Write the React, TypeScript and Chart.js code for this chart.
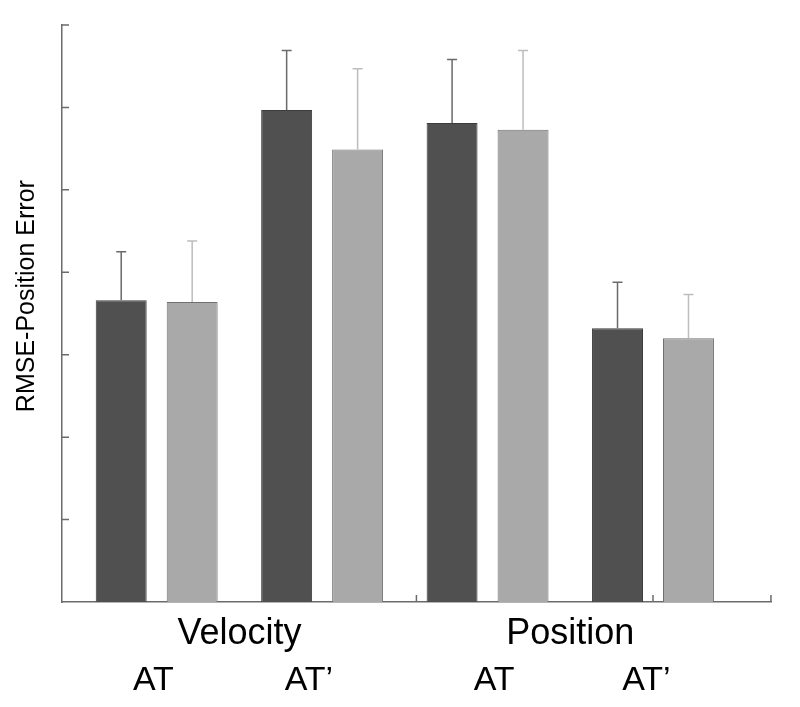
import React, { useEffect, useRef } from "react";
import { Chart, registerables } from "chart.js";

Chart.register(...registerables);

// ---- data ----
const groupLabels = ["Velocity", "Position"];
const groupPositions = [1.5, 3.5];
const conditionLabels = ["AT", "AT\u2019", "AT", "AT\u2019"];
const conditionLabelPositions = [0.98, 1.92, 3.04, 3.96];
const barPositions = [1, 2, 3, 4];
const darkMeans = [3.66, 5.97, 5.81, 3.32];
const lightMeans = [3.64, 5.49, 5.73, 3.2];
const darkErrors = [0.59, 0.72, 0.77, 0.56];
const lightErrors = [0.74, 0.98, 0.96, 0.53];
const xTickMarks = [2.57, 4, 4.713];
const yTitle = "RMSE-Position Error";

const FONT = "'Liberation Sans', Arial, sans-serif";
const AXIS_COLOR = "#6b6b6b";

const errorBarPlugin = {
  id: "errorBars",
  afterDatasetsDraw(chart: any) {
    const ctx = chart.ctx;
    const yScale = chart.scales.y;
    chart.data.datasets.forEach((ds: any, i: number) => {
      const meta = chart.getDatasetMeta(i);
      meta.data.forEach((el: any, j: number) => {
        const v = ds.data[j].y;
        const e = ds.errors[j];
        const yTop = yScale.getPixelForValue(v + e);
        const yBase = el.y;
        ctx.save();
        ctx.strokeStyle = ds.errorColor;
        ctx.lineWidth = 1.5;
        ctx.beginPath();
        ctx.moveTo(el.x, yBase);
        ctx.lineTo(el.x, yTop);
        ctx.moveTo(el.x - 5, yTop);
        ctx.lineTo(el.x + 5, yTop);
        ctx.stroke();
        ctx.restore();
      });
    });
  },
};

const innerTicksPlugin = {
  id: "innerTicks",
  afterDatasetsDraw(chart: any) {
    const ctx = chart.ctx;
    const { left, bottom } = chart.chartArea;
    const yScale = chart.scales.y;
    const xScale = chart.scales.x;
    ctx.save();
    ctx.strokeStyle = AXIS_COLOR;
    ctx.lineWidth = 1.5;
    ctx.beginPath();
    yScale.ticks.forEach((t: any) => {
      if (t.value === 0) return;
      const py = yScale.getPixelForValue(t.value);
      ctx.moveTo(left, py);
      ctx.lineTo(left + 7, py);
    });
    xTickMarks.forEach((v) => {
      const px = xScale.getPixelForValue(v);
      ctx.moveTo(px, bottom);
      ctx.lineTo(px, bottom - 7);
    });
    ctx.stroke();
    ctx.restore();
  },
};

export default function App() {
  const canvasRef = useRef<HTMLCanvasElement | null>(null);

  useEffect(() => {
    if (!canvasRef.current) return;
    const xMin = 0.4276;
    const xMax = 4.7133;
    const chart = new Chart(canvasRef.current, {
      type: "bar",
      data: {
        datasets: [
          {
            label: "dark",
            data: barPositions.map((x, i) => ({ x, y: darkMeans[i] })),
            backgroundColor: "#505050",
            borderColor: "#3c3c3c",
            borderWidth: 1,
            errors: darkErrors,
            errorColor: "#6a6a6a",
          } as any,
          {
            label: "light",
            data: barPositions.map((x, i) => ({ x, y: lightMeans[i] })),
            backgroundColor: "#a9a9a9",
            borderColor: "#707070",
            borderWidth: 1,
            errors: lightErrors,
            errorColor: "#bdbdbd",
          } as any,
        ],
      },
      options: {
        responsive: false,
        animation: false,
        devicePixelRatio: 1,
        layout: { padding: { left: 0, right: 29, top: 25, bottom: 0 } },
        datasets: {
          bar: { categoryPercentage: 0.858, barPercentage: 0.718 },
        },
        plugins: {
          legend: { display: false },
          tooltip: { enabled: false },
        },
        scales: {
          x: {
            type: "linear",
            position: "bottom",
            offset: false,
            weight: 0,
            min: xMin,
            max: xMax,
            afterBuildTicks: (s: any) => {
              s.ticks = groupPositions.map((v) => ({ value: v }));
            },
            afterFit: (s: any) => {
              s.height = 55;
            },
            ticks: {
              callback: (v: any) => groupLabels[groupPositions.indexOf(Number(v))],
              font: { size: 36, family: FONT },
              color: "#000",
              padding: 10.5,
              maxRotation: 0,
              autoSkip: false,
            },
            grid: { display: false, drawTicks: false, offset: false },
            border: { display: true, color: AXIS_COLOR, width: 1.5 },
          },
          x2: {
            type: "linear",
            position: "bottom",
            offset: false,
            weight: 1,
            min: xMin,
            max: xMax,
            afterBuildTicks: (s: any) => {
              s.ticks = conditionLabelPositions.map((v) => ({ value: v }));
            },
            afterFit: (s: any) => {
              s.height = 50;
            },
            ticks: {
              callback: (v: any) =>
                conditionLabels[conditionLabelPositions.indexOf(Number(v))],
              font: { size: 34, family: FONT },
              color: "#000",
              padding: 3.5,
              maxRotation: 0,
              autoSkip: false,
            },
            grid: { display: false, drawTicks: false, offset: false },
            border: { display: false },
          },
          y: {
            type: "linear",
            min: 0,
            max: 7,
            afterFit: (s: any) => {
              s.width = 62;
            },
            ticks: { display: false, stepSize: 1 },
            grid: { display: false, drawTicks: false },
            border: { display: true, color: AXIS_COLOR, width: 1.5 },
            title: {
              display: true,
              text: "     " + yTitle,
              color: "#000",
              font: { size: 25, family: FONT },
              padding: { top: 12.5, bottom: 0 },
            },
          },
        },
      } as any,
      plugins: [errorBarPlugin, innerTicksPlugin],
    });
    return () => chart.destroy();
  }, []);

  return (
    <div
      style={{
        position: "fixed",
        left: 0,
        top: 0,
        width: 800,
        height: 707,
        background: "#fff",
      }}
    >
      <canvas ref={canvasRef} width={800} height={707} />
    </div>
  );
}
